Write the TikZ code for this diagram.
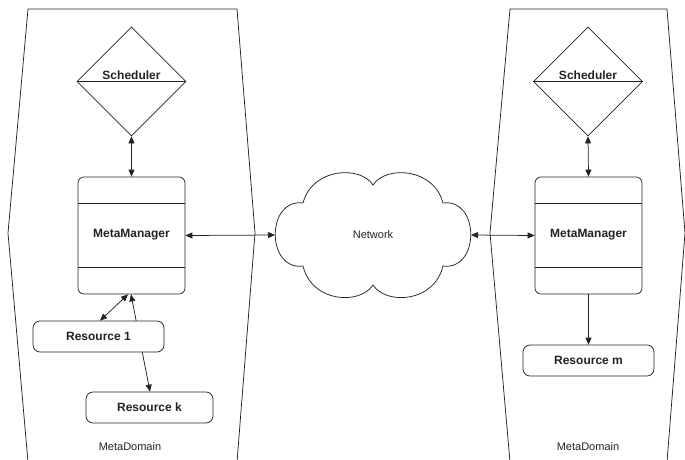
\documentclass[tikz,border=0pt]{standalone}
\usepackage{fontspec}
\setmainfont{Liberation Sans}
\usetikzlibrary{shapes.geometric,arrows.meta}
\definecolor{ink}{RGB}{35,35,35}
\tikzset{
  every path/.style={line width=0.75pt},
  bold12/.style={font=\fontsize{12}{14}\selectfont\bfseries, text=ink},
  reg11/.style={font=\fontsize{11}{13}\selectfont, text=ink},
  sched/.style={draw=ink, diamond, aspect=1, minimum width=109pt, minimum height=109pt, inner sep=0pt},
  mgr/.style={draw=ink, fill=white, rectangle, rounded corners=6pt, minimum width=107pt, minimum height=117pt, inner sep=0pt},
  res/.style={draw=ink, fill=white, rectangle, rounded corners=7pt, minimum height=31pt, inner sep=0pt, bold12},
  conn/.style={draw=ink, {Triangle[length=7pt,width=6pt]}-{Triangle[length=7pt,width=6pt]}},
  conn1/.style={draw=ink, -{Triangle[length=7pt,width=6pt]}},
}
\begin{document}
\begin{tikzpicture}[x=1pt,y=-1pt]
\useasboundingbox (0,0) rectangle (685,459);
% domains
\draw[ink] (28,462) -- (8,233) -- (28,9) -- (237,9) -- (255,233) -- (237,462);
\draw[ink] (510,462) -- (490,233) -- (510,9) -- (667,9) -- (685,233) -- (667,462);
\node[reg11] (dom1) at (130,447) {MetaDomain};
\node[reg11] (dom2) at (588,447) {MetaDomain};
% schedulers
\node[sched] (sch1) at (131.5,81.5) {};
\draw[ink] (sch1.west) -- (sch1.east);
\node[bold12, anchor=base] (sch1t) at (131.5,79) {Scheduler};
\node[sched] (sch2) at (588,81.5) {};
\draw[ink] (sch2.west) -- (sch2.east);
\node[bold12, anchor=base] (sch2t) at (588,79) {Scheduler};
% managers
\node[mgr] (mm1) at (131.5,235.5) {};
\draw[ink] (78,203) -- (185,203) (78,267) -- (185,267);
\node[bold12] (mm1t) at (131.5,235) {MetaManager};
\node[mgr] (mm2) at (588.5,235.5) {};
\draw[ink] (535,203) -- (642,203) (535,267) -- (642,267);
\node[bold12] (mm2t) at (588.5,235) {MetaManager};
% cloud
\draw[ink] (303,203) .. controls (312,168) and (360,165) .. (373,185)
  .. controls (386,165) and (434,168) .. (443,203)
  .. controls (480,198) and (480,271) .. (443,266)
  .. controls (434,303) and (386,305) .. (373,285)
  .. controls (360,305) and (312,303) .. (303,266)
  .. controls (266,271) and (266,198) .. (303,203) -- cycle;
\node[reg11] (net) at (373,235) {Network};
\coordinate (netW) at (275,235);
\coordinate (netE) at (471,235);
% resources
\node[res, minimum width=127pt] (rk) at (149.5,407.5) {Resource k};
\draw[conn] ([xshift=-0.5pt]mm1.south) -- ([xshift=0.5pt]rk.north);
\node[res, minimum width=131pt] (r1) at (98.5,336.5) {Resource 1};
\draw[conn] ([xshift=1.5pt]r1.north) -- ([xshift=-3.5pt]mm1.south);
\node[res, minimum width=131pt] (rm) at (588.5,360.5) {Resource m};
% connectors
\draw[conn] (sch1.south) -- (mm1.north);
\draw[conn] (sch2.south) -- (mm2.north);
\draw[conn] (mm1.east) -- (netW);
\draw[conn] (netE) -- (mm2.west);
\draw[conn1] (mm2.south) -- (rm.north);
\end{tikzpicture}
\end{document}
